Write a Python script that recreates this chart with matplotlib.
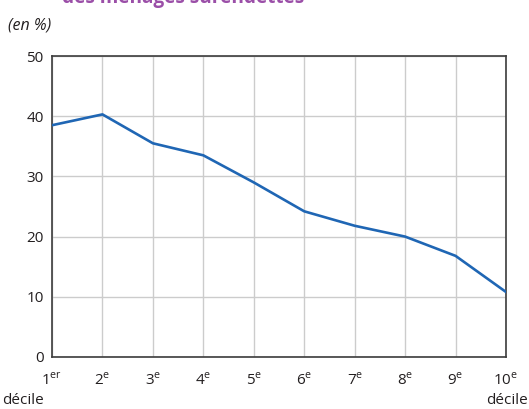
import matplotlib
matplotlib.use("Agg")
import matplotlib.pyplot as plt

# données
deciles = list(range(1, 11))
parts = [38.5, 40.3, 35.5, 33.5, 29.0, 24.2, 21.8, 20.0, 16.8, 10.8]
tick_labels = ["1$^{\\mathrm{er}}$", "2$^{\\mathrm{e}}$", "3$^{\\mathrm{e}}$", "4$^{\\mathrm{e}}$",
               "5$^{\\mathrm{e}}$", "6$^{\\mathrm{e}}$", "7$^{\\mathrm{e}}$", "8$^{\\mathrm{e}}$",
               "9$^{\\mathrm{e}}$", "10$^{\\mathrm{e}}$"]
y_ticks = [0, 10, 20, 30, 40, 50]

plt.rcParams['font.family'] = ['Open Sans', 'DejaVu Sans']
plt.rcParams['mathtext.fontset'] = 'custom'
plt.rcParams['mathtext.rm'] = 'Open Sans'

fig = plt.figure(figsize=(5.29, 4.09), dpi=100)
ax = fig.add_axes([52 / 529, 1 - 357 / 409, 454 / 529, 301 / 409])

ax.plot(deciles, parts, color='#1f66b4', linewidth=1.9, zorder=3)

ax.set_xlim(1, 10)
ax.set_ylim(0, 50)
ax.set_xticks(deciles)
ax.set_xticklabels(tick_labels, fontsize=11)
ax.set_yticks(y_ticks)
ax.set_yticklabels([str(v) for v in y_ticks], fontsize=11)
ax.tick_params(axis='x', length=0, pad=11, colors='#231f20')
ax.tick_params(axis='y', length=0, pad=6, colors='#231f20')
ax.grid(True, color='#cccccc', linewidth=1.0)
ax.set_axisbelow(True)
for s in ax.spines.values():
    s.set_color('#3c3c3c')
    s.set_linewidth(1.2)

fig.text(2 / 529, 1 - 401 / 409, "décile", fontsize=11, color='#231f20', ha='left', va='center')
fig.text(528 / 529, 1 - 401 / 409, "décile", fontsize=11, color='#231f20', ha='right', va='center')
fig.text(8 / 529, 1 - 25 / 409, "(en %)", fontsize=11.5, style='italic', color='#231f20',
         ha='left', va='center')
# titre coupé en haut de l'image, comme sur l'original
fig.text(62 / 529, 1 - 3 / 409, "des ménages surendettés", fontsize=13.7, fontweight='bold',
         color='#9b4fa8', ha='left', va='baseline')

fig.savefig("out.png", dpi=100)
